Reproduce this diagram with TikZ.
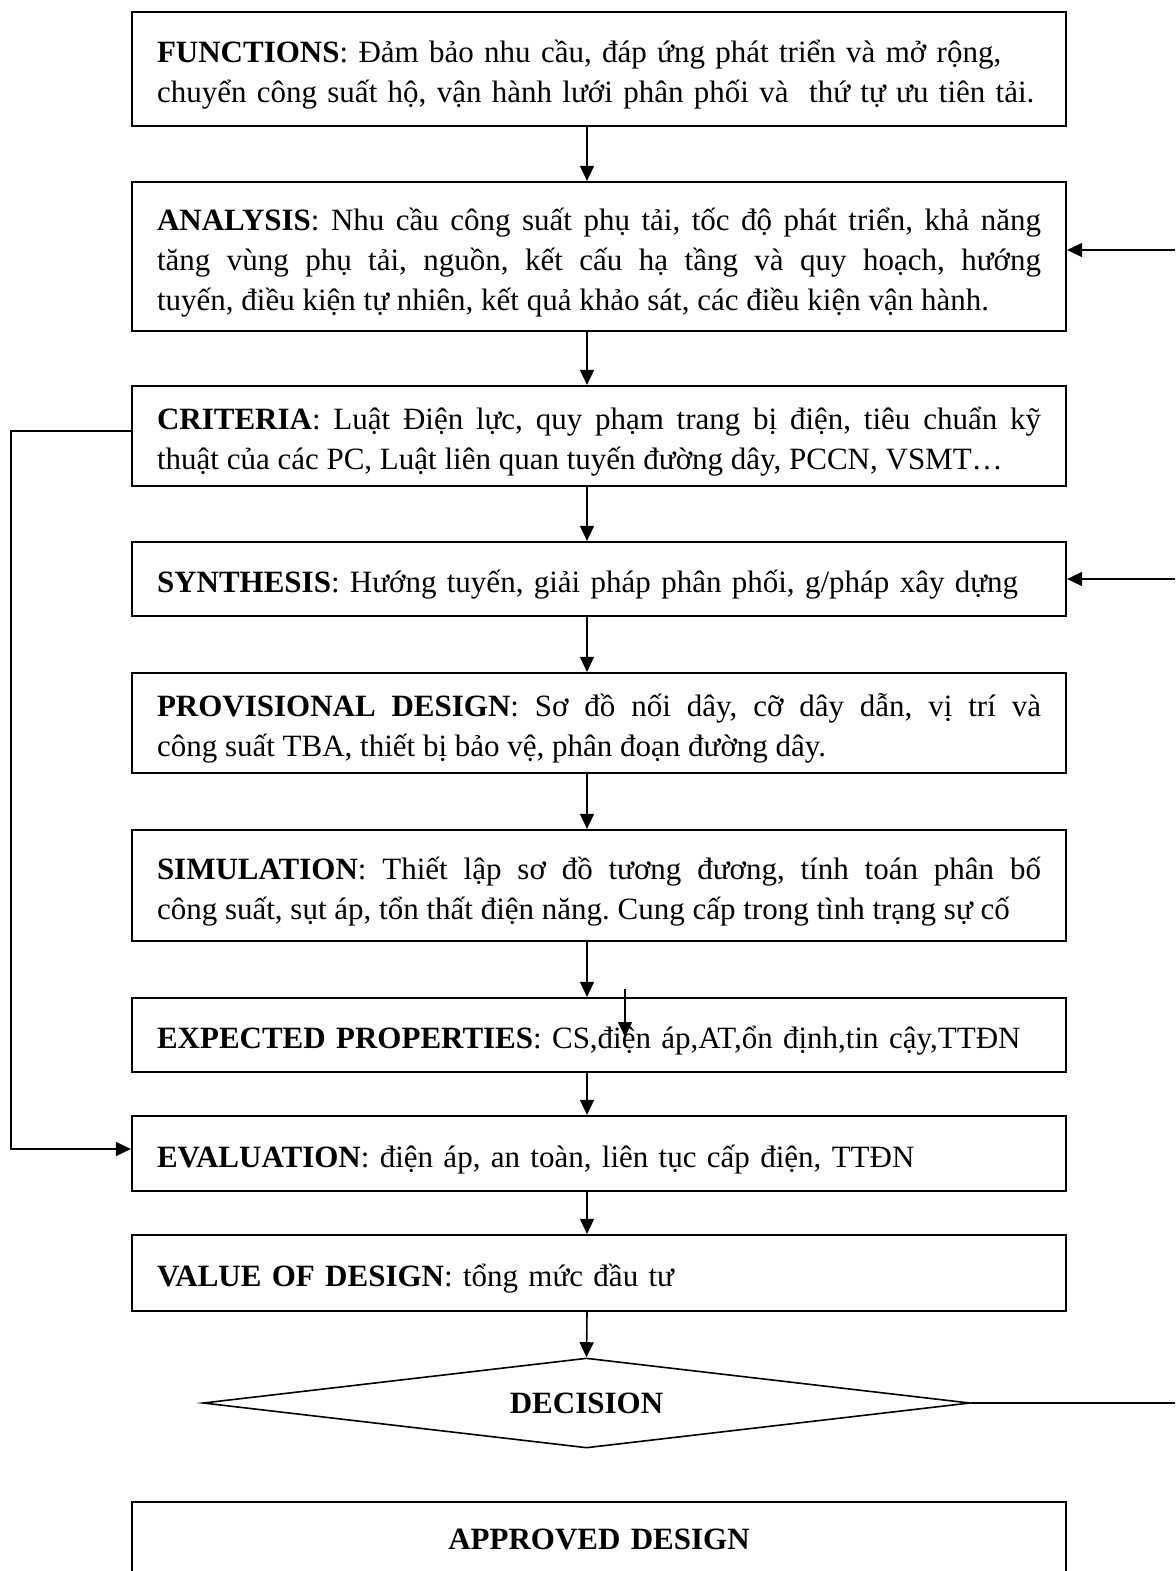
\documentclass[tikz,border=0pt]{standalone}
\usepackage{fontspec}
\setmainfont{Liberation Serif}
\usepackage{tikz}
\usetikzlibrary{arrows.meta, positioning, shapes.geometric}

\newcommand\tstrut{\rule{0pt}{34pt}}
\tikzset{
  frame/.style={draw, line width=2.2pt, rectangle, minimum width=934pt,
    inner xsep=25pt, inner ysep=0pt, text width=884pt},
  box/.style={frame, execute at begin node=\tstrut},
  dia/.style={draw, line width=1.6pt, diamond, aspect=8.5, minimum width=767pt,
    minimum height=90pt, inner sep=0pt},
  arr/.style={-{Triangle[length=15pt,width=14pt]}, line width=1.6pt},
  thin arr/.style={-{Triangle[length=15pt,width=14pt]}, line width=1.2pt}
}

\begin{document}
\frenchspacing
\begin{tikzpicture}[x=1pt, y=-1pt, font=\fontsize{31}{40}\selectfont]
  \useasboundingbox (0,0) rectangle (1175,1571);

  % boxes
  \node[box, align=left, minimum height=114pt] (func) at (599,69)
    {\textbf{FUNCTIONS}: Đảm bảo nhu cầu, đáp ứng phát triển và mở rộng,\\
     chuyển công suất hộ, vận hành lưới phân phối và\ \ thứ tự ưu tiên tải.};
  \node[box, align=justify, minimum height=149pt] (anal) at (599,256.5)
    {\textbf{ANALYSIS}: Nhu cầu công suất phụ tải, tốc độ phát triển, khả năng\linebreak
     tăng vùng phụ tải, nguồn, kết cấu hạ tầng và quy hoạch, hướng\linebreak
     tuyến, điều kiện tự nhiên, kết quả khảo sát, các điều kiện vận hành.};
  \node[box, align=justify, minimum height=100pt] (crit) at (599,436)
    {\textbf{CRITERIA}: Luật Điện lực, quy phạm trang bị điện, tiêu chuẩn kỹ\linebreak
     thuật của các PC, Luật liên quan tuyến đường dây, PCCN, VSMT…};
  \node[box, align=left, minimum height=74pt] (synt) at (599,579)
    {\textbf{SYNTHESIS}: Hướng tuyến, giải pháp phân phối, g/pháp xây dựng};
  \node[box, align=justify, minimum height=100pt] (prov) at (599,723)
    {\textbf{PROVISIONAL DESIGN}: Sơ đồ nối dây, cỡ dây dẫn, vị trí và\linebreak
     công suất TBA, thiết bị bảo vệ, phân đoạn đường dây.};
  \node[box, align=justify, minimum height=111pt] (simu) at (599,885.5)
    {\textbf{SIMULATION}: Thiết lập sơ đồ tương đương, tính toán phân bố\linebreak
     công suất, sụt áp, tổn thất điện năng. Cung cấp trong tình trạng sự cố};
  \node[box, align=left, minimum height=74pt] (expe) at (599,1035)
    {\textbf{EXPECTED PROPERTIES}: CS,điện áp,AT,ổn định,tin cậy,TTĐN};
  \node[box, align=left, minimum height=75pt] (eval) at (599,1153.5)
    {\textbf{EVALUATION}: điện áp, an toàn, liên tục cấp điện, TTĐN};
  \node[box, align=left, minimum height=76pt] (valu) at (599,1273)
    {\textbf{VALUE OF DESIGN}: tổng mức đầu tư};
  \node[dia] (dec) at (586.5,1403) {\textbf{DECISION}};
  \node[frame, align=center, minimum height=74pt] (appr) at (599,1539)
    {\textbf{APPROVED DESIGN}};

  % main flow
  \coordinate (ax) at (587,0);
  \foreach \a/\b in {func/anal, anal/crit, crit/synt, synt/prov, prov/simu,
                     simu/expe, expe/eval, eval/valu}
    \draw[arr] (\a.south -| ax) -- (\b.north -| ax);
  \draw[arr] (valu.south -| ax) -- (dec.north);

  % stray arrow inside EXPECTED PROPERTIES
  \coordinate (sa) at (625,989);
  \coordinate (sb) at (625,1037);
  \draw[thin arr] (sa) -- (sb);

  % feedback on the right
  \coordinate (ra) at (1175,250);
  \coordinate (rs) at (1175,579);
  \coordinate (rd) at (1175,1403);
  \draw[arr] (ra) -- ([yshift=6.5pt]anal.east);
  \draw[arr] (rs) -- (synt.east);
  \draw[line width=1.6pt] (dec.east) -- (rd);

  % feedback on the left
  \draw[arr] ([yshift=5pt]crit.west) -- ++(-120,0) |- ([yshift=4.5pt]eval.west);
\end{tikzpicture}
\end{document}
